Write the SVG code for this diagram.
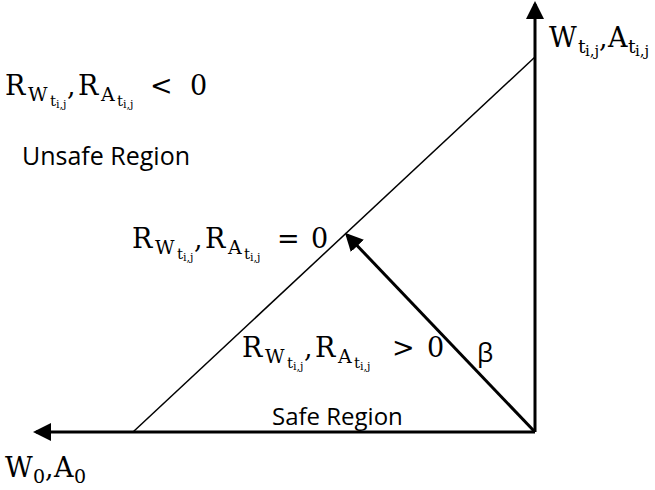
<svg xmlns="http://www.w3.org/2000/svg" width="655" height="490" viewBox="0 0 655 490">
<style>
.m{font-family:"DejaVu Serif","Liberation Serif",serif;fill:#000}
.b{font-size:27px}
.s{font-size:19px}
.ss{font-size:15px}
.sss{font-size:11px}
.t{font-family:"Open Sans","Noto Sans","Liberation Sans",sans-serif;fill:#000}
.thin{stroke:#000;stroke-width:1.5;fill:none}
.bold{stroke:#000;stroke-width:3;fill:none}
</style>
<defs>
<marker id="ah" markerWidth="6" markerHeight="6" refX="5" refY="3" orient="auto" markerUnits="strokeWidth" viewBox="0 0 6 6">
<path d="M0,0 L6,3 L0,6 z" fill="#000"/>
</marker>
</defs>
<g id="connectors">
<line class="bold" x1="535" y1="432" x2="36" y2="432" marker-end="url(#ah)"/>
<line class="bold" x1="535" y1="432" x2="535" y2="4" marker-end="url(#ah)"/>
<line class="bold" x1="535" y1="432" x2="347" y2="235" marker-end="url(#ah)"/>
<line class="thin" x1="133" y1="432" x2="535" y2="57"/>
</g>
<g id="label-neg" class="m">
<text class="b" x="5" y="95">R</text>
<text class="s" x="28" y="101">W</text>
<text class="ss" x="50" y="106">t</text>
<text class="sss" x="56" y="108">i,j</text>
<text class="b" x="67" y="95">,</text>
<text class="b" x="78" y="95">R</text>
<text class="s" x="101" y="101">A</text>
<text class="ss" x="117" y="106">t</text>
<text class="sss" x="123" y="108">i,j</text>
<text class="b" x="150" y="95">&lt;</text>
<text class="b" x="190" y="95">0</text>
</g>
<g id="unsafe"><text class="t" x="22" y="165" font-size="25">Unsafe Region</text></g>
<g id="label-zero" class="m">
<text class="b" x="132" y="248">R</text>
<text class="s" x="155" y="254">W</text>
<text class="ss" x="177" y="259">t</text>
<text class="sss" x="183" y="261">i,j</text>
<text class="b" x="194" y="248">,</text>
<text class="b" x="205" y="248">R</text>
<text class="s" x="228" y="254">A</text>
<text class="ss" x="244" y="259">t</text>
<text class="sss" x="250" y="261">i,j</text>
<text class="b" x="277" y="248">=</text>
<text class="b" x="311" y="248">0</text>
</g>
<g id="label-pos" class="m">
<text class="b" x="242" y="357">R</text>
<text class="s" x="265" y="363">W</text>
<text class="ss" x="287" y="368">t</text>
<text class="sss" x="293" y="370">i,j</text>
<text class="b" x="304" y="357">,</text>
<text class="b" x="315" y="357">R</text>
<text class="s" x="338" y="363">A</text>
<text class="ss" x="354" y="368">t</text>
<text class="sss" x="360" y="370">i,j</text>
<text class="b" x="392" y="357">&gt;</text>
<text class="b" x="427" y="357">0</text>
</g>
<g id="beta"><text class="t" x="477" y="362" font-size="26">β</text></g>
<g id="safe"><text class="t" x="272" y="425" font-size="24">Safe Region</text></g>
<g id="label-top" class="m">
<text class="b" x="549" y="47">W</text>
<text class="s" x="578" y="53">t</text>
<text class="ss" x="585" y="56">i,j</text>
<text class="b" x="599" y="47">,</text>
<text class="b" x="608" y="47">A</text>
<text class="s" x="628" y="53">t</text>
<text class="ss" x="635" y="56">i,j</text>
</g>
<g id="label-origin" class="m">
<text class="b" x="5" y="477">W</text>
<text class="s" x="33" y="483">0</text>
<text class="b" x="45" y="477">,</text>
<text class="b" x="54" y="477">A</text>
<text class="s" x="74" y="483">0</text>
</g>
</svg>
